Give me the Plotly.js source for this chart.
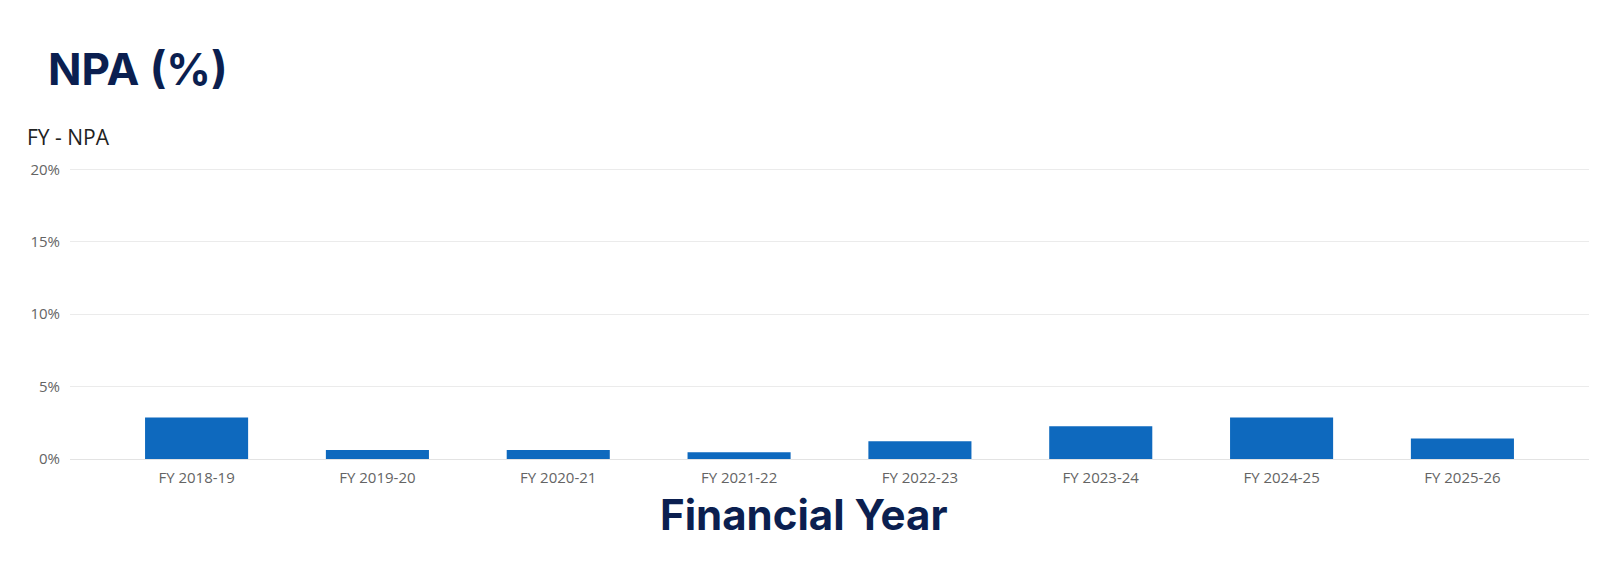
<!DOCTYPE html>
<html>
<head>
<meta charset="utf-8">
<script src="https://cdn.plot.ly/plotly-3.0.1.min.js"></script>
<style>
  html, body { margin: 0; padding: 0; background: #fff; }
  #chart { width: 1603px; height: 569px; }
</style>
</head>
<body>
<div id="chart"></div>
<script>
  // data

  var years = ['FY 2018-19', 'FY 2019-20', 'FY 2020-21', 'FY 2021-22',
               'FY 2022-23', 'FY 2023-24', 'FY 2024-25', 'FY 2025-26'];
  var npa = [2.86, 0.62, 0.62, 0.46, 1.22, 2.26, 2.86, 1.41];
  var yTicks = [0, 5, 10, 15, 20];
  var yTickText = ['0%', '5%', '10%', '15%', '20%'];

  var navy = '#0b1f50';
  var tickFont = { family: '"Open Sans", "Noto Sans", sans-serif', size: 15, color: '#646464' };

  var trace = {
    x: years,
    y: npa,
    type: 'bar',
    marker: { color: '#0e69be' },
    hoverinfo: 'x+y'
  };

  var layout = {
    width: 1603,
    height: 569,
    margin: { l: 70, r: 14, t: 168, b: 110 },
    paper_bgcolor: '#fff',
    plot_bgcolor: '#fff',
    bargap: 0.43,
    showlegend: false,
    title: {
      text: '<b>NPA (%)</b>',
      font: { family: 'Inter, Roboto, sans-serif', size: 44, color: navy },
      xref: 'container', x: 0.03, xanchor: 'left',
      yref: 'container', y: 0.877, yanchor: 'middle'
    },
    xaxis: {
      type: 'category',
      range: [-0.70, 7.70],
      showgrid: false,
      showline: true,
      linecolor: '#e3e3e3',
      linewidth: 1,
      ticks: '',
      ticklabelstandoff: 5,
      tickfont: tickFont,
      fixedrange: true
    },
    yaxis: {
      range: [0, 20.1],
      tickvals: yTicks,
      ticktext: yTickText,
      showgrid: true,
      gridcolor: '#ebebeb',
      zeroline: false,
      showline: false,
      ticks: '',
      ticklabelstandoff: 9,
      tickfont: tickFont,
      fixedrange: true
    },
    annotations: [
      {
        text: 'FY - NPA',
        xref: 'paper', yref: 'paper',
        x: -0.0295, y: 1, xanchor: 'left', yanchor: 'middle', yshift: 31,
        showarrow: false,
        font: { family: '"Open Sans", "Noto Sans", sans-serif', size: 21, color: '#222' }
      },
      {
        text: '<b>Financial Year</b>',
        xref: 'paper', yref: 'paper',
        x: 0.483, y: 0, xanchor: 'center', yanchor: 'middle', yshift: -55,
        showarrow: false,
        font: { family: 'Inter, Roboto, sans-serif', size: 42, color: navy }
      }
    ]
  };

  Plotly.newPlot('chart', [trace], layout, { displayModeBar: false });
</script>
</body>
</html>
